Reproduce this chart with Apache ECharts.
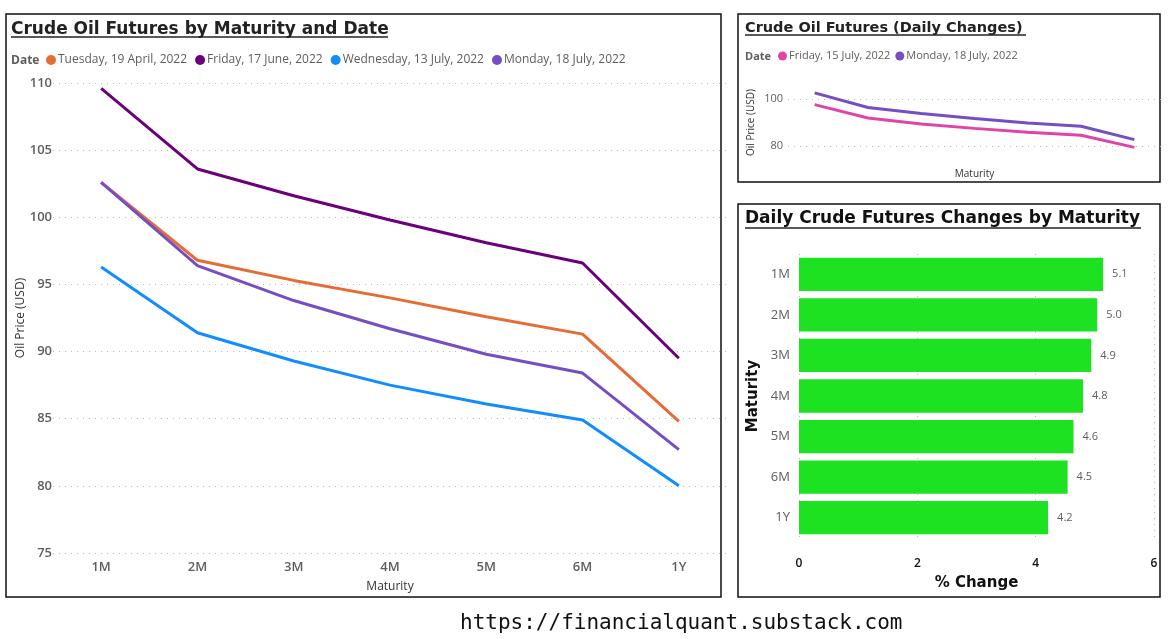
<!DOCTYPE html>
<html>
<head>
<meta charset="utf-8">
<script src="https://cdn.jsdelivr.net/npm/echarts@6/dist/echarts.min.js"></script>
<style>
  html, body { margin: 0; padding: 0; background: #fff; }
  #main { width: 1174px; height: 639px; }
</style>
</head>
<body>
<div id="main"></div>
<script>
// 数据
var maturities = ['1M', '2M', '3M', '4M', '5M', '6M', '1Y'];
var apr19 = [102.6, 96.8, 95.3, 94.0, 92.6, 91.3, 84.8];
var jun17 = [109.6, 103.6, 101.6, 99.8, 98.1, 96.6, 89.5];
var jul13 = [96.3, 91.4, 89.3, 87.5, 86.1, 84.9, 80.0];
var jul18 = [102.6, 96.4, 93.8, 91.7, 89.8, 88.4, 82.7];
var jul15 = [97.6, 91.9, 89.4, 87.5, 85.9, 84.6, 79.4];
var pctChange = [5.14, 5.04, 4.94, 4.80, 4.64, 4.54, 4.21];
var mainTicks = [75, 80, 85, 90, 95, 100, 105, 110];
var changeTicks = [0, 2, 4, 6];

var FONT = '"Open Sans", "Noto Sans", sans-serif';
var TITLE_FONT = '"DejaVu Sans", sans-serif';
var GREY = '#605E5C';

var myChart = echarts.init(document.getElementById('main'));

function box(x, y, w, h) {
	return { type: 'rect', shape: { x: x, y: y, width: w, height: h },
		style: { fill: 'none', stroke: '#111', lineWidth: 1.5 }, z: 0 };
}
function underline(x1, x2, y) {
	return { type: 'line', shape: { x1: x1, y1: y, x2: x2, y2: y },
		style: { stroke: '#222', lineWidth: 1.5 } };
}
function dateLabel(x, y, size) {
	return { type: 'text', left: x, top: y,
		style: { text: 'Date', fill: GREY, font: 'bold ' + size + 'px ' + FONT } };
}

var lineStyle = function (c) { return { width: 3, color: c }; };

option = {
	animation: false,
	title: [
		{ text: 'Crude Oil Futures by Maturity and Date', left: 11, top: 21.5, padding: 0,
		  textStyle: { fontFamily: TITLE_FONT, fontWeight: 'bold', fontSize: 17, color: '#222' } },
		{ text: 'Crude Oil Futures (Daily Changes)', left: 745, top: 20.5, padding: 0,
		  textStyle: { fontFamily: TITLE_FONT, fontWeight: 'bold', fontSize: 14.5, color: '#222' } },
		{ text: 'Daily Crude Futures Changes by Maturity', left: 745, top: 210.5, padding: 0,
		  textStyle: { fontFamily: TITLE_FONT, fontWeight: 'bold', fontSize: 17, color: '#111' } }
	],
	legend: [
		{ left: 46, top: 54, padding: 0, icon: 'circle', itemWidth: 10, itemHeight: 10, itemGap: 8,
		  textStyle: { fontFamily: FONT, fontSize: 12, color: GREY, padding: [0, 0, 0, -3] },
		  data: ['Tuesday, 19 April, 2022', 'Friday, 17 June, 2022', 'Wednesday, 13 July, 2022', 'Monday, 18 July, 2022 '] },
		{ left: 778, top: 50.5, padding: 0, icon: 'circle', itemWidth: 9, itemHeight: 9, itemGap: 5,
		  textStyle: { fontFamily: FONT, fontSize: 11, color: GREY, padding: [0, 0, 0, -3] },
		  data: ['Friday, 15 July, 2022', 'Monday, 18 July, 2022'] }
	],
	grid: [
		{ left: 53, top: 83, width: 674, height: 470 },
		{ left: 788, top: 52, width: 373, height: 141 },
		{ left: 799, top: 254, width: 355, height: 284 }
	],
	xAxis: [
		{ gridIndex: 0, type: 'category', data: maturities, boundaryGap: true,
		  axisLine: { show: false }, axisTick: { show: false },
		  axisLabel: { margin: 8, fontFamily: FONT, fontSize: 13, fontWeight: 600, color: GREY },
		  name: 'Maturity', nameLocation: 'middle', nameGap: 28,
		  nameTextStyle: { fontFamily: FONT, fontSize: 12, color: '#333' } },
		{ gridIndex: 1, type: 'category', data: maturities, boundaryGap: true,
		  axisLine: { show: false }, axisTick: { show: false }, axisLabel: { show: false },
		  name: 'Maturity', nameLocation: 'middle', nameGap: -24,
		  nameTextStyle: { fontFamily: FONT, fontSize: 10, color: '#333' } },
		{ gridIndex: 2, type: 'value', min: changeTicks[0], max: changeTicks[changeTicks.length - 1], interval: 2,
		  axisLine: { show: false }, axisTick: { show: false },
		  axisLabel: { margin: 20, fontFamily: FONT, fontSize: 12, fontWeight: 600, color: '#111' },
		  splitLine: { lineStyle: { type: [1, 5], color: '#bbb' } },
		  name: '% Change', nameLocation: 'middle', nameGap: 38,
		  nameTextStyle: { fontFamily: TITLE_FONT, fontSize: 15, fontWeight: 'bold', color: '#111' } }
	],
	yAxis: [
		{ gridIndex: 0, type: 'value', min: mainTicks[0], max: mainTicks[mainTicks.length - 1], interval: 5,
		  axisLine: { show: false }, axisTick: { show: false },
		  axisLabel: { margin: 1, fontFamily: FONT, fontSize: 13, fontWeight: 600, color: GREY },
		  splitLine: { lineStyle: { type: [1, 5], color: '#bbb' } },
		  name: 'Oil Price (USD)', nameLocation: 'middle', nameGap: 26, nameMoveOverlap: false,
		  nameTextStyle: { fontFamily: FONT, fontSize: 12, color: '#333' } },
		{ gridIndex: 1, type: 'value', min: 60, max: 120, interval: 20,
		  axisLine: { show: false }, axisTick: { show: false },
		  axisLabel: { margin: 5, showMinLabel: false, showMaxLabel: false,
		               fontFamily: FONT, fontSize: 11, color: GREY },
		  splitLine: { showMinLine: false, showMaxLine: false, lineStyle: { type: [1, 5], color: '#bbb' } },
		  name: 'Oil Price (USD)', nameLocation: 'middle', nameGap: 32,
		  nameTextStyle: { fontFamily: FONT, fontSize: 10, color: '#333' } },
		{ gridIndex: 2, type: 'category', data: maturities, inverse: true,
		  axisLine: { show: false }, axisTick: { show: false },
		  axisLabel: { margin: 9, fontFamily: FONT, fontSize: 13, color: GREY },
		  name: 'Maturity', nameLocation: 'middle', nameGap: 38,
		  nameTextStyle: { fontFamily: TITLE_FONT, fontSize: 15, fontWeight: 'bold', color: '#111' } }
	],
	series: [
		{ name: 'Tuesday, 19 April, 2022', type: 'line', xAxisIndex: 0, yAxisIndex: 0, data: apr19,
		  symbol: 'none', color: '#E66C37', lineStyle: lineStyle('#E66C37') },
		{ name: 'Friday, 17 June, 2022', type: 'line', xAxisIndex: 0, yAxisIndex: 0, data: jun17,
		  symbol: 'none', color: '#6B007B', lineStyle: lineStyle('#6B007B') },
		{ name: 'Wednesday, 13 July, 2022', type: 'line', xAxisIndex: 0, yAxisIndex: 0, data: jul13,
		  symbol: 'none', color: '#118DFF', lineStyle: lineStyle('#118DFF') },
		{ name: 'Monday, 18 July, 2022 ', type: 'line', xAxisIndex: 0, yAxisIndex: 0, data: jul18,
		  symbol: 'none', color: '#744EC2', lineStyle: lineStyle('#744EC2') },
		{ name: 'Friday, 15 July, 2022', type: 'line', xAxisIndex: 1, yAxisIndex: 1, data: jul15,
		  symbol: 'none', color: '#E044A7', lineStyle: lineStyle('#E044A7') },
		{ name: 'Monday, 18 July, 2022', type: 'line', xAxisIndex: 1, yAxisIndex: 1, data: jul18,
		  symbol: 'none', color: '#744EC2', lineStyle: lineStyle('#744EC2') },
		{ name: '% Change', type: 'bar', xAxisIndex: 2, yAxisIndex: 2, data: pctChange,
		  barCategoryGap: '18%', itemStyle: { color: '#1DE221' },
		  label: { show: true, position: 'right', distance: 9, fontFamily: FONT, fontSize: 11, color: GREY,
		           formatter: function (p) { return p.value.toFixed(1); } } }
	],
	graphic: [
		box(6, 14, 715, 583),
		box(738, 14, 422, 168),
		box(738, 204, 422, 393),
		underline(11, 388, 37),
		underline(745, 1026, 35),
		underline(745, 1141, 228),
		dateLabel(11, 55, 12),
		dateLabel(745, 51.5, 11),
		{ type: 'text', left: 460, top: 613,
		  style: { text: 'https://financialquant.substack.com', fill: '#111',
		           font: '21px "Comic Sans MS", "DejaVu Sans Mono", monospace' } }
	]
};

myChart.setOption(option);
</script>
</body>
</html>
